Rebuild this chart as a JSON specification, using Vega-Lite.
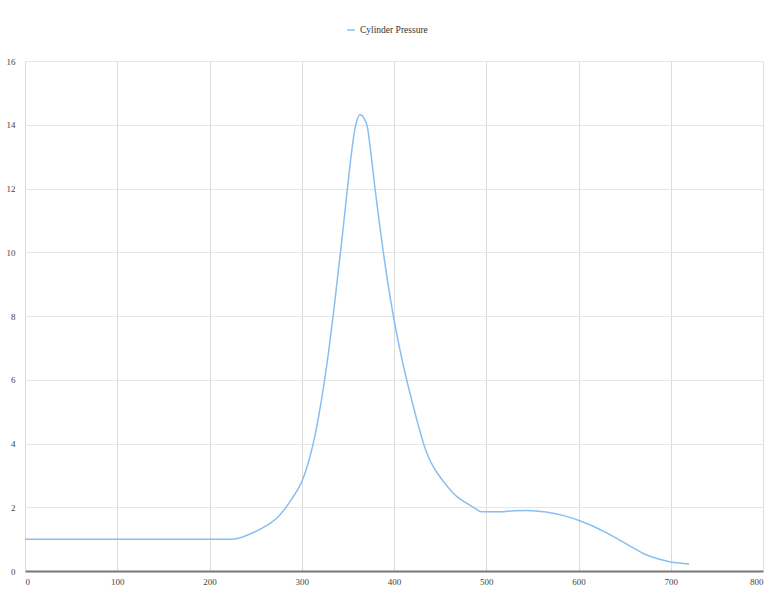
{
  "$schema": "https://vega.github.io/schema/vega-lite/v6.json",
  "width": 738,
  "height": 510,
  "autosize": {"type": "none"},
  "padding": {"left": 25, "top": 61, "right": 13, "bottom": 29},
  "background": "white",
  "config": {
    "font": "Liberation Serif",
    "view": {"stroke": null},
    "axis": {"labelFont": "Liberation Serif", "labelFontSize": 9, "labelColor": "#444", "gridColor": "#e6e6e6", "gridWidth": 1, "ticks": false, "title": null},
    "legend": {"labelFont": "Liberation Serif"}
  },
  "data": {
    "values": [
      {"angle": 0, "pressure": 1.0},
      {"angle": 225, "pressure": 1.0},
      {"angle": 235, "pressure": 1.06},
      {"angle": 247, "pressure": 1.2},
      {"angle": 256, "pressure": 1.33},
      {"angle": 266, "pressure": 1.5},
      {"angle": 275, "pressure": 1.72},
      {"angle": 282, "pressure": 1.96},
      {"angle": 290, "pressure": 2.3},
      {"angle": 300, "pressure": 2.8},
      {"angle": 305, "pressure": 3.2},
      {"angle": 309, "pressure": 3.6},
      {"angle": 314, "pressure": 4.2},
      {"angle": 318, "pressure": 4.8},
      {"angle": 321, "pressure": 5.3},
      {"angle": 324, "pressure": 5.85},
      {"angle": 329, "pressure": 6.85},
      {"angle": 334, "pressure": 8.0},
      {"angle": 338, "pressure": 9.0},
      {"angle": 342, "pressure": 10.0},
      {"angle": 346, "pressure": 11.05},
      {"angle": 349.5, "pressure": 12.0},
      {"angle": 353, "pressure": 12.9},
      {"angle": 357.5, "pressure": 13.85},
      {"angle": 360, "pressure": 14.15},
      {"angle": 363, "pressure": 14.31},
      {"angle": 366, "pressure": 14.27},
      {"angle": 368.5, "pressure": 14.15},
      {"angle": 371, "pressure": 13.95},
      {"angle": 375, "pressure": 13.1},
      {"angle": 379.4, "pressure": 12.0},
      {"angle": 384, "pressure": 10.95},
      {"angle": 388.4, "pressure": 10.0},
      {"angle": 393, "pressure": 9.1},
      {"angle": 399.3, "pressure": 8.0},
      {"angle": 406, "pressure": 7.0},
      {"angle": 413.7, "pressure": 6.0},
      {"angle": 422, "pressure": 5.05},
      {"angle": 427, "pressure": 4.5},
      {"angle": 432, "pressure": 4.0},
      {"angle": 437, "pressure": 3.6},
      {"angle": 443, "pressure": 3.25},
      {"angle": 450, "pressure": 2.95},
      {"angle": 457, "pressure": 2.68},
      {"angle": 464, "pressure": 2.45},
      {"angle": 471, "pressure": 2.27},
      {"angle": 479, "pressure": 2.12},
      {"angle": 487, "pressure": 1.98},
      {"angle": 495, "pressure": 1.86},
      {"angle": 515, "pressure": 1.86},
      {"angle": 530, "pressure": 1.89},
      {"angle": 544, "pressure": 1.9},
      {"angle": 565, "pressure": 1.85},
      {"angle": 585, "pressure": 1.73},
      {"angle": 602, "pressure": 1.57},
      {"angle": 620, "pressure": 1.35},
      {"angle": 638, "pressure": 1.08},
      {"angle": 656, "pressure": 0.78},
      {"angle": 674, "pressure": 0.5},
      {"angle": 690, "pressure": 0.35},
      {"angle": 700, "pressure": 0.28},
      {"angle": 720, "pressure": 0.22}
    ]
  },
  "mark": {"type": "line", "interpolate": "monotone", "strokeWidth": 1.5},
  "encoding": {
    "x": {
      "field": "angle", "type": "quantitative",
      "scale": {"domain": [0, 800], "nice": false},
      "axis": {"values": [0,100,200,300,400,500,600,700,800], "domainColor": "#777", "domainWidth": 2, "labelPadding": 6, "gridColor": "#dcdcdc"}
    },
    "y": {
      "field": "pressure", "type": "quantitative",
      "scale": {"domain": [0, 16], "nice": false},
      "axis": {"values": [0,2,4,6,8,10,12,14,16], "domain": false, "labelPadding": 10}
    },
    "color": {
      "datum": "Cylinder Pressure",
      "scale": {"range": ["#88bff2"]},
      "legend": {
        "orient": "none", "legendX": 321, "legendY": -36, "title": null,
        "symbolType": "stroke", "symbolSize": 60, "symbolStrokeWidth": 1.5,
        "labelFont": "Liberation Serif", "labelFontSize": 9.5, "labelColor": "#333"
      }
    }
  }
}
